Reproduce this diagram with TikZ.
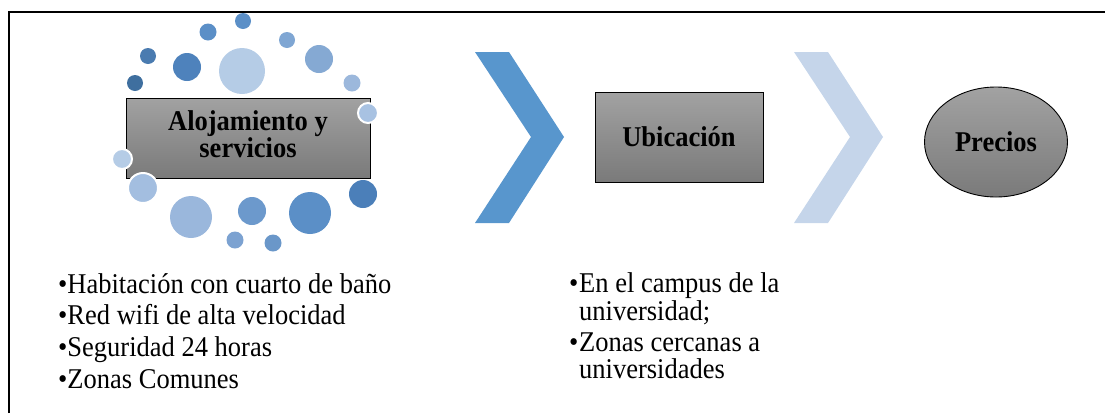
\documentclass[tikz,border=0pt]{standalone}
\usepackage{fontspec}
\setmainfont{Liberation Serif}
\usetikzlibrary{shapes.geometric}
\newcommand\vstr[1]{\scalebox{1}[1.08]{#1}}
\definecolor{boxtop}{RGB}{162,162,162}
\definecolor{boxbot}{RGB}{122,122,122}
\definecolor{chevA}{RGB}{88,150,205}
\definecolor{chevB}{RGB}{197,213,234}
\definecolor{cA}{RGB}{91,143,199}
\definecolor{cB}{RGB}{127,166,211}
\definecolor{cC}{RGB}{74,123,176}
\definecolor{cD}{RGB}{78,130,188}
\definecolor{cE}{RGB}{181,204,230}
\definecolor{cF}{RGB}{133,169,211}
\definecolor{cG}{RGB}{63,111,159}
\definecolor{cH}{RGB}{156,184,220}
\definecolor{cI}{RGB}{168,194,226}
\definecolor{cJ}{RGB}{163,190,224}
\definecolor{cK}{RGB}{154,183,220}
\definecolor{cL}{RGB}{108,153,204}
\definecolor{cM}{RGB}{75,127,185}
\definecolor{cN}{RGB}{124,162,209}
\definecolor{cO}{RGB}{106,151,201}
\tikzset{
  graybox/.style={draw=black, line width=0.9pt, top color=boxtop, bottom color=boxbot,
    font=\fontsize{26.5}{24}\selectfont\bfseries, align=center, inner sep=0pt},
  wdot/.style={draw=white, line width=2pt},
  bullet/.style={anchor=base west, inner sep=0pt, font=\fontsize{26.5}{31.5}\selectfont}
}
\begin{document}
\begin{tikzpicture}[x=1pt,y=-1pt]
\useasboundingbox (0,0) rectangle (1105,413);
% frame
\coordinate (ftl) at (9,12);
\coordinate (ftr) at (1105,12);
\coordinate (fbl) at (9,413);
\draw[line width=1.5pt] (fbl) -- (ftl) -- (ftr);
% first box
\node[graybox, minimum width=244pt, minimum height=80pt] (aloj) at (248,138)
  {\vstr{\setlength{\tabcolsep}{0pt}\begin{tabular}{c}Alojamiento y\\servicios\end{tabular}}};
% circles
\fill[cA] (243,21) circle (8);
\fill[cA] (208,32) circle (8.5);
\fill[cB] (287,40) circle (8);
\fill[cC] (148,56) circle (8);
\fill[cD] (187,67) circle (14);
\fill[cE] (242,71) circle (23);
\fill[cF] (319,59) circle (14);
\fill[cG] (135,83) circle (8);
\fill[cH] (352,83) circle (8.5);
\filldraw[cI, wdot] (368,113) circle (10);
\filldraw[cE, wdot] (122,159) circle (10);
\filldraw[cJ, wdot] (143,188) circle (15);
\fill[cK] (191,217) circle (21);
\fill[cL] (252,211) circle (14);
\fill[cA] (310,213) circle (21);
\fill[cM] (363,194) circle (14);
\fill[cN] (235,240) circle (8.5);
\fill[cO] (273,243) circle (8.5);
% chevrons
\fill[chevA] (475,52) -- (509,52) -- (564,137) -- (509,223) -- (475,223) -- (531,137) -- cycle;
\fill[chevB] (794,52) -- (828,52) -- (883,137) -- (828,223) -- (794,223) -- (850,137) -- cycle;
% second box
\node[graybox, minimum width=168pt, minimum height=90pt] (ubic) at (679,137) {\vstr{Ubicación}};
% ellipse
\node[graybox, ellipse, minimum width=143pt, minimum height=110pt] (prec) at (996,142) {\vstr{Precios}};
% bullet lists
\node[bullet] (l1) at (58,293) {\vstr{•Habitación con cuarto de baño}};
\node[bullet] (l2) at (58,324.5) {\vstr{•Red wifi de alta velocidad}};
\node[bullet] (l3) at (58,356) {\vstr{•Seguridad 24 horas}};
\node[bullet] (l4) at (58,388) {\vstr{•Zonas Comunes}};
\node[bullet] (r1b) at (569,292) {\vstr{•}};
\node[bullet] (r1) at (579,292) {\vstr{En el campus de la}};
\node[bullet] (r1c) at (579,320) {\vstr{universidad;}};
\node[bullet] (r2b) at (569,351) {\vstr{•}};
\node[bullet] (r2) at (579,351) {\vstr{Zonas cercanas a}};
\node[bullet] (r2c) at (579,378) {\vstr{universidades}};
\end{tikzpicture}
\end{document}
